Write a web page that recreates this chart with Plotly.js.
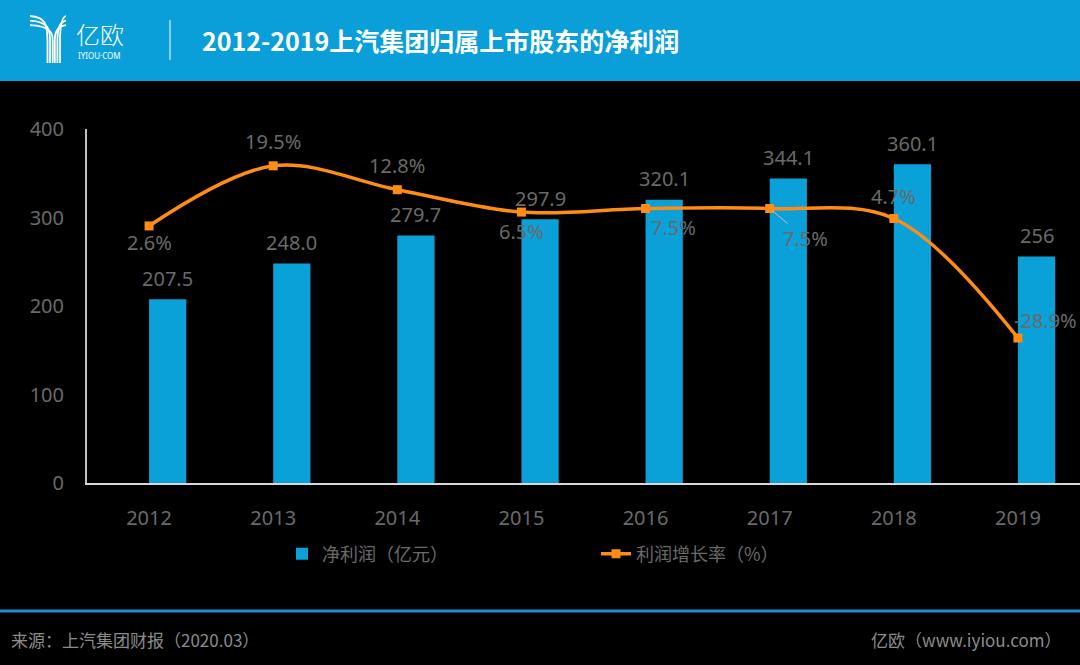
<!DOCTYPE html>
<html>
<head>
<meta charset="utf-8">
<script src="https://cdn.plot.ly/plotly-3.0.1.min.js"></script>
<style>html,body{margin:0;padding:0;background:#000;}#chart{width:1080px;height:665px;}</style>
</head>
<body>
<div id="chart"></div>
<script>
// ---- data ----
const years = ['2012','2013','2014','2015','2016','2017','2018','2019'];
const netProfit = [207.5, 248.0, 279.7, 297.9, 320.1, 344.1, 360.1, 256];
const netProfitLabels = ['207.5','248.0','279.7','297.9','320.1','344.1','360.1','256'];
const growthRate = [2.6, 19.5, 12.8, 6.5, 7.5, 7.5, 4.7, -28.9];
const growthLabels = ['2.6%','19.5%','12.8%','6.5%','7.5%','7.5%','4.7%','-28.9%'];
const yTicks = [0, 100, 200, 300, 400];

// ---- layout helpers (pixel -> paper) ----
const L = 87, R = 1080, T = 129, B = 483;
const px = q => (q - L) / (R - L);
const py = p => (B - p) / (B - T);

const numFont = '"Noto Sans", sans-serif';
const cjkFont = '"Noto Sans CJK SC", "Noto Sans", sans-serif';
const grey = '#6a6a6a';
const numSize = 20;

// label offsets (px) for growth labels: [dx, dy(up)]
const gOff = [[0,-17],[0,24],[0,24],[0,-19],[28,-19],[36,-30],[0,22],[28,18]];

const traces = [
  {
    type: 'bar', x: years, y: netProfit, name: '净利润（亿元）',
    marker: {color: '#0aa0d8'}, width: 0.3, offset: 0,
    hoverinfo: 'skip'
  },
  {
    type: 'scatter', x: years, y: growthRate, yaxis: 'y2', name: '利润增长率（%）',
    mode: 'lines+markers',
    line: {color: '#ff8c14', width: 3.5, shape: 'spline', smoothing: 1},
    marker: {color: '#ff8c14', symbol: 'square', size: 9},
    hoverinfo: 'skip'
  }
];

const annotations = [];
years.forEach((yr, i) => {
  annotations.push({
    x: i, y: netProfit[i], xref: 'x', yref: 'y', text: netProfitLabels[i],
    showarrow: false, xshift: 18.6, yshift: 21,
    font: {family: numFont, size: numSize, color: grey}
  });
  const o = gOff[i];
  if (i === 5) {
    annotations.push({
      x: i, y: growthRate[i], xref: 'x', yref: 'y2', text: growthLabels[i],
      showarrow: true, ax: o[0], ay: -o[1], arrowhead: 0, arrowwidth: 1,
      arrowcolor: '#bfbfbf', standoff: 3,
      font: {family: numFont, size: numSize, color: grey}
    });
  } else {
    annotations.push({
      x: i, y: growthRate[i], xref: 'x', yref: 'y2', text: growthLabels[i],
      showarrow: false, xshift: o[0], yshift: o[1],
      font: {family: numFont, size: numSize, color: grey}
    });
  }
});

// header texts
annotations.push({
  xref: 'paper', yref: 'paper', x: px(200), y: py(40), xanchor: 'left', yanchor: 'middle',
  text: '<b>2012-2019上汽集团归属上市股东的净利润</b>', showarrow: false,
  font: {family: cjkFont, size: 25, color: '#ffffff'}
});
annotations.push({
  xref: 'paper', yref: 'paper', x: px(74), y: py(33), xanchor: 'left', yanchor: 'middle',
  text: '亿欧', showarrow: false,
  font: {family: cjkFont, size: 24, color: '#ffffff', weight: 300}
});
annotations.push({
  xref: 'paper', yref: 'paper', x: px(76), y: py(56), xanchor: 'left', yanchor: 'middle',
  text: 'IYIOU·COM', showarrow: false,
  font: {family: '"Noto Sans", sans-serif', size: 8, color: '#ffffff'}
});
// footer texts
annotations.push({
  xref: 'paper', yref: 'paper', x: px(9), y: py(639), xanchor: 'left', yanchor: 'middle',
  text: '来源：上汽集团财报（2020.03）', showarrow: false,
  font: {family: cjkFont, size: 17, color: '#8c8c8c'}
});
annotations.push({
  xref: 'paper', yref: 'paper', x: px(1064), y: py(639), xanchor: 'right', yanchor: 'middle',
  text: '亿欧（www.iyiou.com）', showarrow: false,
  font: {family: cjkFont, size: 17, color: '#8c8c8c'}
});

// logo icon paths
function P(x, y) { return px(x).toFixed(5) + ',' + py(y).toFixed(5); }
const shapes = [
  {type: 'rect', xref: 'paper', yref: 'paper', x0: px(0), x1: px(1080), y0: py(0), y1: py(81),
   fillcolor: '#0a9fd8', line: {width: 0}, layer: 'below'},
  {type: 'line', xref: 'paper', yref: 'paper', x0: px(0), x1: px(1080), y0: py(611), y1: py(611),
   line: {color: '#1a8fd4', width: 3}},
  {type: 'line', xref: 'paper', yref: 'paper', x0: px(170), x1: px(170), y0: py(20), y1: py(60),
   line: {color: '#ffffff', width: 1}}
];
for (let i = 0; i < 3; i++) {
  const xs = 47.5 + 2.6 * i, y0 = 16 + 4.6 * i;
  shapes.push({type: 'path', xref: 'paper', yref: 'paper',
    path: 'M' + P(30, y0) + ' C' + P(xs - 2, y0 + 1) + ' ' + P(xs, y0 + 8) + ' ' + P(xs, 42 - i) + ' L' + P(xs, 63),
    line: {color: '#ffffff', width: 1.8}});
  const xr = 60 - 2.6 * i;
  shapes.push({type: 'path', xref: 'paper', yref: 'paper',
    path: 'M' + P(66, y0) + ' C' + P(xr + 2, y0 + 1) + ' ' + P(xr, y0 + 8) + ' ' + P(xr, 42 - i) + ' L' + P(xr, 63),
    line: {color: '#ffffff', width: 1.8}});
}

const layout = {
  width: 1080, height: 665,
  margin: {l: L, r: 1080 - R, t: T, b: 665 - B, pad: 0},
  paper_bgcolor: '#000000', plot_bgcolor: '#000000',
  showlegend: true,
  legend: {
    orientation: 'h', x: px(282), xanchor: 'left', y: py(554), yanchor: 'middle',
    bgcolor: 'rgba(0,0,0,0)', entrywidth: 269, entrywidthmode: 'pixels',
    font: {family: cjkFont, size: 18, color: grey}, traceorder: 'normal'
  },
  xaxis: {
    type: 'category', categoryorder: 'array', categoryarray: years, range: [-0.5, 7.5],
    showline: true, linecolor: '#d9d9d9', linewidth: 2, ticks: '', showgrid: false,
    zeroline: false, tickfont: {family: numFont, size: numSize, color: grey}, ticklabelstandoff: 16,
    fixedrange: true
  },
  yaxis: {
    range: [0, 400], tickvals: yTicks, ticktext: yTicks.map(String),
    showline: true, linecolor: '#bfbfbf', linewidth: 2, ticks: '', showgrid: false,
    zeroline: false, tickfont: {family: numFont, size: numSize, color: grey}, ticklabelstandoff: 17,
    fixedrange: true
  },
  yaxis2: {
    overlaying: 'y', side: 'right', range: [-69.65, 29.85], visible: false, showgrid: false,
    zeroline: false, fixedrange: true
  },
  annotations: annotations,
  shapes: shapes
};

Plotly.newPlot('chart', traces, layout, {displayModeBar: false, staticPlot: true});
</script>
</body>
</html>
